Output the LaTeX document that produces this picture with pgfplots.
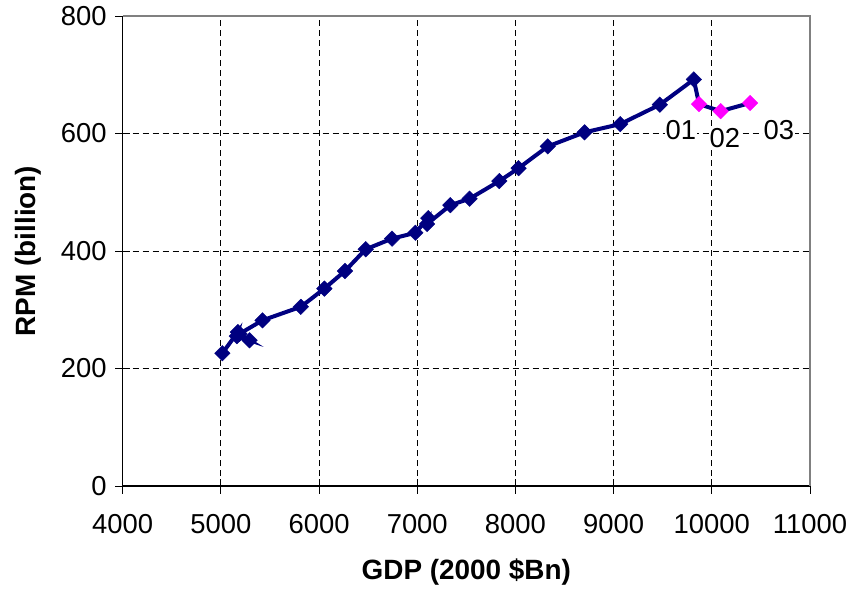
\documentclass[border=0pt]{standalone}
\usepackage{fontspec}
\setmainfont{Liberation Sans}
\usepackage{pgfplots}
\pgfplotsset{compat=1.18}
\definecolor{navyline}{RGB}{0,0,128}
\definecolor{magentamark}{RGB}{255,0,255}
\begin{document}
\begin{tikzpicture}
\path[use as bounding box] (-122.7bp,-104bp) rectangle (729.3bp,486bp);
\begin{axis}[
  at={(0,0)}, anchor=south west,
  scale only axis, width=687.3bp, height=470bp,
  xmin=4000, xmax=11000, ymin=0, ymax=800,
  xtick={4000,5000,6000,7000,8000,9000,10000,11000},
  ytick={0,200,400,600,800},
  scaled x ticks=false, scaled y ticks=false,
  axis x line*=bottom, axis y line*=left,
  axis line style={-, black, line width=1.2bp},
  tick align=center, major tick length=15bp,
  tick style={black, line width=1bp},
  grid=major,
  major grid style={black, line width=0.9bp, dash pattern=on 6bp off 4bp},
  ticklabel style={font=\fontsize{27.5}{32}\selectfont},
  /pgf/number format/assume math mode=true,
  /pgf/number format/1000 sep={},
  xticklabel style={anchor=north, yshift=-17bp},
  yticklabel style={anchor=east, xshift=-5bp},
  xlabel={GDP (2000 \$Bn)},
  ylabel={RPM (billion)},
  every axis x label/.style={at={(axis description cs:0.5,-0.1979)}, anchor=base, font=\fontsize{28}{32}\selectfont\bfseries},
  every axis y label/.style={at={(axis description cs:-0.1378,0.5)}, anchor=center, rotate=90, font=\fontsize{28}{32}\selectfont\bfseries},
  clip=false,
]
% line through all years
\addplot[navyline, line width=4bp, no markers] coordinates {
(5015,226) (5173,262) (5162,255) (5292,248) (5189,259) (5424,282)
(5814,305) (6054,336) (6264,366) (6475,403) (6743,421) (6981,431)
(7112,456) (7100,446) (7337,478) (7533,489) (7836,519) (8032,541)
(8329,578) (8704,602) (9067,616) (9470,649) (9817,692)
(9870,650) (10090,638) (10390,652)
};
% navy markers 1978-2000
\addplot[only marks, mark=square*, mark size=5.5bp,
  mark options={rotate=45, fill=navyline, draw=navyline}] coordinates {
(5015,226) (5173,262) (5162,255) (5292,248) (5189,259) (5424,282)
(5814,305) (6054,336) (6264,366) (6475,403) (6743,421) (6981,431)
(7112,456) (7100,446) (7337,478) (7533,489) (7836,519) (8032,541)
(8329,578) (8704,602) (9067,616) (9470,649) (9817,692)
};
% magenta markers 2001-2003
\addplot[only marks, mark=square*, mark size=5.5bp,
  mark options={rotate=45, fill=magentamark, draw=magentamark}] coordinates {
(9870,650) (10090,638) (10390,652)
};
\draw[gray, line width=2bp] (rel axis cs:0,1) -- (rel axis cs:1,1) -- (rel axis cs:1,0);
\node[font=\fontsize{27.5}{32}\selectfont, fill=white, inner sep=1bp] at (axis cs:9686,606) {01};
\node[font=\fontsize{27.5}{32}\selectfont, fill=white, inner sep=1bp] at (axis cs:10134,593) {02};
\node[font=\fontsize{27.5}{32}\selectfont, fill=white, inner sep=1bp] at (axis cs:10684,606) {03};
\end{axis}
\end{tikzpicture}
\end{document}
